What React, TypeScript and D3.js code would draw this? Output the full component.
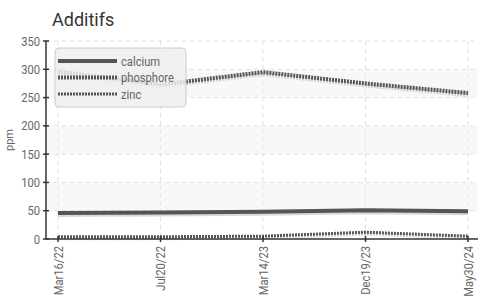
import React from 'react';
import * as d3 from 'd3';

const categories = ['Mar16/22', 'Jul20/22', 'Mar14/23', 'Dec19/23', 'May30/24'];
const calcium = [46, 47, 48, 51, 49];
const phosphore = [296, 273, 295, 275, 258];
const zinc = [4, 4, 5, 12, 5];
const yTicks = [0, 50, 100, 150, 200, 250, 300, 350];

const series = [
    { name: 'calcium', values: calcium, width: 4, dash: null },
    { name: 'phosphore', values: phosphore, width: 4, dash: '2,1' },
    { name: 'zinc', values: zinc, width: 3, dash: '2,1' },
];

const W = 478;
const H = 303;
const left = 46;
const right = 478;
const top = 41;
const bottom = 239;
const narrow = '"Liberation Sans Narrow", "Roboto", sans-serif';
const squeeze = 'scale(0.86,1)'; // condensed look for tick labels

export default function App() {
    const x = d3.scalePoint<string>().domain(categories).range([58, 468]);
    const y = d3.scaleLinear().domain([0, 350]).range([bottom, top]);

    const line = d3.line<number>()
        .x((_, i) => x(categories[i]) as number)
        .y((d) => y(d));

    const bands = yTicks.slice(0, -1).filter((t) => (t / 50) % 2 === 1);

    return (
        <svg width={W} height={H} style={{ position: 'absolute', left: 0, top: 0 }}>
            <rect width={W} height={H} fill="#fff" />
            <text x={52} y={26} fontFamily="Roboto, sans-serif" fontSize={18} fill="#333">Additifs</text>

            {/* alternating bands */}
            {bands.map((t) => (
                <rect key={t} x={left} width={right - left} y={y(t + 50)} height={y(t) - y(t + 50)} fill="#f8f8f8" />
            ))}

            {/* grid */}
            {yTicks.slice(1).map((t) => (
                <line key={t} x1={left} x2={right} y1={y(t)} y2={y(t)} stroke="#e0e0e0" strokeDasharray="4,4" />
            ))}
            {categories.map((c) => (
                <line key={c} x1={x(c)} x2={x(c)} y1={top} y2={bottom} stroke="#e0e0e0" strokeDasharray="4,4" />
            ))}

            {/* series with shadow */}
            {series.map((s) => (
                <g key={s.name}>
                    <path d={line(s.values) as string} transform="translate(0,2)" fill="none"
                        stroke="#000" strokeOpacity={0.15} strokeWidth={s.width}
                        strokeDasharray={s.dash ?? undefined} />
                    <path d={line(s.values) as string} fill="none" stroke="#555" strokeWidth={s.width}
                        strokeDasharray={s.dash ?? undefined} />
                </g>
            ))}

            {/* axes */}
            <line x1={left} x2={left} y1={top} y2={bottom} stroke="#333" strokeWidth={1.5} />
            <line x1={left} x2={right} y1={bottom} y2={bottom} stroke="#333" strokeWidth={1.5} />
            {yTicks.map((t) => (
                <g key={t} transform={`translate(${left},${y(t)})`}>
                    <line x1={-3} x2={3} stroke="#333" strokeWidth={1.5} />
                    <text transform={`translate(-6,0) ${squeeze}`} dy="0.35em" textAnchor="end"
                        fontFamily={narrow} fontSize={13} fill="#666">{t}</text>
                </g>
            ))}
            {categories.map((c) => (
                <g key={c} transform={`translate(${x(c)},${bottom})`}>
                    <line y1={-3} y2={3} stroke="#333" strokeWidth={1.5} />
                    <text transform={`translate(0,7) rotate(-90) ${squeeze}`} dy="0.35em" textAnchor="end"
                        fontFamily={narrow} fontSize={13} fill="#666">{c}</text>
                </g>
            ))}
            <text transform={`translate(13,140) rotate(-90)`} textAnchor="middle" fontFamily={narrow}
                fontSize={11} fill="#666">ppm</text>

            {/* legend */}
            <g>
                <rect x={55} y={48} width={131} height={59} rx={4} fill="#eee" fillOpacity={0.85} stroke="#ccc" />
                {series.map((s, i) => (
                    <g key={s.name} transform={`translate(0,${61 + i * 16.5})`}>
                        <line x1={58} x2={117} stroke="#555" strokeWidth={s.width} strokeDasharray={s.dash ?? undefined} />
                        <text transform={`translate(121,0) ${squeeze}`} dy="0.35em" fontFamily={narrow}
                            fontSize={13} fill="#666">{s.name}</text>
                    </g>
                ))}
            </g>
        </svg>
    );
}
